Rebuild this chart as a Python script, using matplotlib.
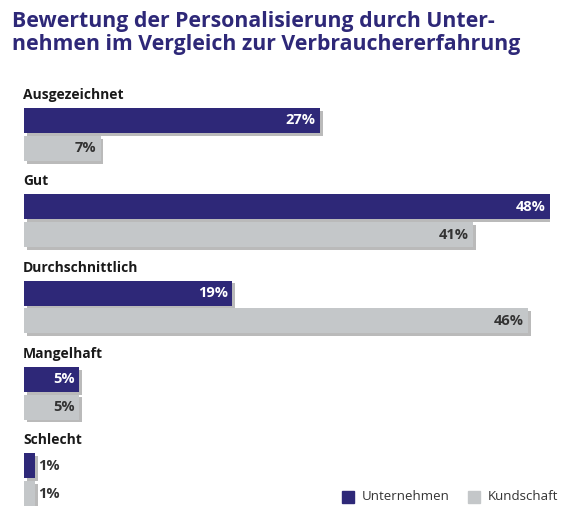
import matplotlib
matplotlib.use("Agg")
import matplotlib.pyplot as plt
import matplotlib.patheffects as pe

categories = ["Ausgezeichnet", "Gut", "Durchschnittlich", "Mangelhaft", "Schlecht"]
unternehmen = [27, 48, 19, 5, 1]
kundschaft = [7, 41, 46, 5, 1]
series_names = ["Unternehmen", "Kundschaft"]
title = "Bewertung der Personalisierung durch Unter-\nnehmen im Vergleich zur Verbrauchererfahrung"

NAVY = "#2e2878"
GRAY = "#c4c7c9"
W, H = 563, 519
plt.rcParams['font.family'] = ['Open Sans', 'DejaVu Sans']
fig = plt.figure(figsize=(W/100, H/100), dpi=100)
fig.text(12/W, 1-11/H, title, ha="left", va="top", fontsize=15.3, fontweight="bold",
         color=NAVY, linespacing=1.15)

top, bot = 108, 506
ax = fig.add_axes([24/W, 1-bot/H, (550-24)/W, (bot-top)/H])
ax.set_xlim(0, 48)
ax.set_ylim(bot-top, 0)
ax.axis("off")
shadow = [pe.SimplePatchShadow(offset=(2, -2), shadow_rgbFace="#777777", alpha=0.5), pe.Normal()]
step, h, off = 86.3, 25, 27.8
for i, cat in enumerate(categories):
    y0 = i*step
    ax.text(-0.1, y0-6, cat, ha="left", va="bottom", fontsize=10, fontweight="bold", color="#1a1a1a")
    for j, (vals, col) in enumerate([(unternehmen, NAVY), (kundschaft, GRAY)]):
        v = vals[i]
        yy = y0 + j*off
        b = ax.barh(yy + h/2, v, height=h, color=col, zorder=2)
        for p in b.patches:
            p.set_path_effects(shadow)
        if v >= 4:
            ax.text(v-0.4, yy+h/2, f"{v}%", ha="right", va="center", fontsize=10.5,
                    fontweight="bold", color="white" if j == 0 else "#333333", zorder=3)
        else:
            ax.text(v+0.3, yy+h/2, f"{v}%", ha="left", va="center", fontsize=10.5,
                    fontweight="bold", color="#333333", zorder=3)

for name, col, x in [(series_names[0], NAVY, 342), (series_names[1], GRAY, 468)]:
    fig.patches.append(plt.Rectangle((x/W, 1-503/H), 12/W, 12/H, color=col, transform=fig.transFigure))
    fig.text((x+20)/W, 1-497/H, name, ha="left", va="center", fontsize=9.5, color="#333333")

fig.savefig("out.png", dpi=100, facecolor="white")
